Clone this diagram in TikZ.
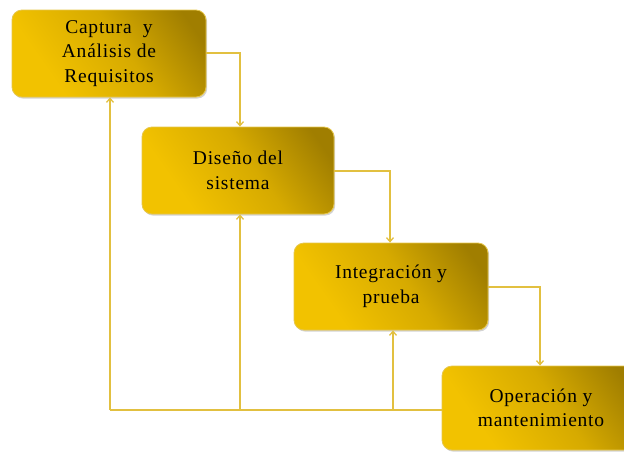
\documentclass[tikz,border=0pt]{standalone}
\usepackage{fontspec}
\setmainfont{Liberation Serif}
\usetikzlibrary{arrows.meta,shadows}
\definecolor{goldA}{HTML}{F2C200}
\definecolor{goldM}{HTML}{D6AA00}
\definecolor{goldB}{HTML}{A07E00}
\definecolor{goldEdge}{HTML}{E6C64A}
\definecolor{lineGold}{HTML}{E2C040}
\pgfdeclarehorizontalshading{goldsh}{100bp}{color(0bp)=(goldA); color(30bp)=(goldA); color(55bp)=(goldM); color(78bp)=(goldB); color(100bp)=(goldB)}
\tikzset{
  phase/.style={rectangle, rounded corners=10pt, shading=goldsh, shading angle=35,
    draw=goldEdge, line width=0.8pt, align=center, inner sep=0pt,
    font=\fontsize{19.5}{24.5}\selectfont\addfontfeatures{LetterSpace=4},
    drop shadow={opacity=0.35, shadow xshift=1.2pt, shadow yshift=-1.6pt}},
  flow/.style={draw=lineGold, line width=1.3pt, -{Straight Barb[length=4pt,width=7pt]}},
  back/.style={draw=lineGold, line width=1.3pt}
}
\begin{document}
\begin{tikzpicture}[x=1pt,y=-1pt]
\useasboundingbox (0,0) rectangle (624,453);
\clip (0,0) rectangle (624,453);
% boxes
\node[phase, minimum width=194pt, minimum height=87pt] (c) at (109,53.5) {Captura\ \ y\\Análisis de\\Requisitos};
\node[phase, minimum width=192pt, minimum height=87pt] (d) at (238,170.5) {Diseño del\\sistema};
\node[phase, minimum width=194pt, minimum height=87pt] (i) at (391,286.5) {Integración y\\prueba};
\node[phase, minimum width=198pt, minimum height=84pt] (o) at (541,408) {Operación y\\mantenimiento};
% forward connectors
\coordinate (c1) at (240,53);
\coordinate (d1) at (390,171);
\coordinate (i1) at (540,287);
\draw[flow] (c.east |- c1) -- (c1) -- (c1 |- d.north);
\draw[flow] (d.east |- d1) -- (d1) -- (d1 |- i.north);
\draw[flow] (i.east |- i1) -- (i1) -- (i1 |- o.north);
% feedback
\coordinate (b1) at (110,410);
\coordinate (b2) at (240,410);
\coordinate (b3) at (393,410);
\draw[back] (o.west |- b1) -- (b1);
\draw[flow] (b1) -- (b1 |- c.south);
\draw[flow] (b2) -- (b2 |- d.south);
\draw[flow] (b3) -- (b3 |- i.south);
\end{tikzpicture}
\end{document}
